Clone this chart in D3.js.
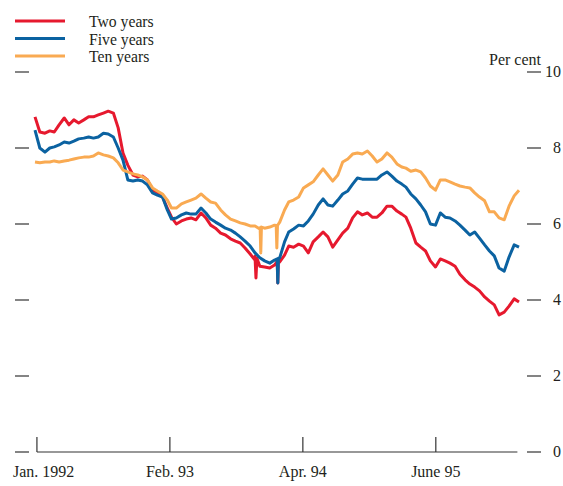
<!DOCTYPE html>
<html><head><meta charset="utf-8">
<script src="https://cdn.jsdelivr.net/npm/d3@7"></script>
<style>body{margin:0;background:#fff}text{font-family:"Liberation Serif","Times New Roman",serif;fill:#231f20}</style>
</head><body><svg id="c" width="563" height="486"></svg>
<script>
// Semi-monthly observations (1st and 16th), Jan. 1992 onward, per cent
const seriesNames = ["Two years", "Five years", "Ten years"];
const seriesColors = ["#e6192e", "#0b62a1", "#f9aa52"];

const twoYears = [8.82,8.42,8.39,8.45,8.42,8.61,8.79,8.61,8.74,8.66,
  8.74,8.82,8.82,8.87,8.92,8.97,8.92,8.53,7.87,7.55,
  7.29,7.24,7.26,7.16,6.89,6.84,6.71,6.42,6.18,6.00,
  6.08,6.13,6.16,6.11,6.29,6.16,5.97,5.89,5.76,5.71,
  5.61,5.55,5.50,5.37,5.21,5.05,4.89,4.87,4.84,4.92,
  5.00,5.18,5.42,5.39,5.47,5.42,5.24,5.53,5.66,5.79,
  5.66,5.39,5.58,5.76,5.89,6.16,6.32,6.24,6.29,6.18,
  6.18,6.29,6.47,6.47,6.34,6.26,6.18,5.89,5.50,5.39,
  5.29,5.03,4.87,5.08,5.03,4.97,4.89,4.68,4.53,4.42,
  4.34,4.24,4.08,3.97,3.87,3.61,3.68,3.84,4.03,3.95];

const fiveYears = [8.47,8.00,7.89,8.00,8.03,8.08,8.16,8.13,8.18,8.24,
  8.26,8.29,8.26,8.29,8.39,8.37,8.29,8.00,7.68,7.16,
  7.13,7.16,7.13,7.03,6.82,6.76,6.71,6.37,6.13,6.16,
  6.24,6.29,6.26,6.26,6.42,6.29,6.13,6.05,5.97,5.89,
  5.84,5.76,5.66,5.55,5.42,5.24,5.11,5.03,4.97,5.05,
  5.11,5.53,5.79,5.87,5.97,5.95,6.08,6.26,6.50,6.66,
  6.50,6.47,6.63,6.79,6.87,7.05,7.21,7.18,7.18,7.18,
  7.18,7.29,7.37,7.26,7.13,7.05,6.97,6.79,6.66,6.50,
  6.32,6.00,5.97,6.29,6.18,6.16,6.08,5.97,5.84,5.71,
  5.79,5.63,5.45,5.29,5.16,4.84,4.76,5.13,5.45,5.39];

const tenYears = [7.63,7.61,7.63,7.63,7.66,7.63,7.66,7.68,7.71,7.74,
  7.76,7.76,7.79,7.87,7.82,7.79,7.74,7.61,7.42,7.37,
  7.32,7.29,7.24,7.16,6.95,6.87,6.79,6.63,6.42,6.42,
  6.53,6.58,6.63,6.68,6.79,6.68,6.58,6.55,6.37,6.24,
  6.13,6.08,6.03,6.00,5.95,5.95,5.87,5.89,5.92,5.97,
  6.05,6.37,6.58,6.63,6.71,6.95,7.03,7.11,7.29,7.45,
  7.29,7.13,7.29,7.63,7.71,7.84,7.87,7.84,7.92,7.79,
  7.63,7.71,7.87,7.76,7.58,7.50,7.47,7.39,7.42,7.37,
  7.21,7.00,6.89,7.16,7.16,7.11,7.05,7.00,6.97,6.95,
  6.82,6.71,6.61,6.32,6.32,6.16,6.11,6.47,6.74,6.89];

// single-day drops, [date, value]
const twoYearSpikes = [["1993-11-16",5.15],["1993-11-19",4.58],["1993-11-22",5.10],
                       ["1994-01-24",5.02],["1994-01-26",4.45],["1994-01-28",5.08]];
const fiveYearSpikes = [["1994-01-24",5.08],["1994-01-26",4.45],["1994-01-28",5.10]];
const tenYearSpikes = [["1993-12-02",5.90],["1993-12-04",5.24],["1993-12-06",5.92],
                       ["1994-01-21",5.96],["1994-01-23",5.37],["1994-01-25",5.96]];

const yTicks = [0, 2, 4, 6, 8, 10];
const xTickDates = ["1992-01-07", "1993-02-24", "1994-04-14", "1995-06-02"];
const xTickLabels = ["Jan. 1992", "Feb. 93", "Apr. 94", "June 95"];
const axisEndDate = "1996-02-11";

const parse = d3.utcParse("%Y-%m-%d");
const dates = d3.range(twoYears.length).map(i => new Date(Date.UTC(1992, Math.floor(i / 2), i % 2 ? 16 : 1)));

const svg = d3.select("#c");
const x = d3.scaleUtc().domain([dates[0], dates[dates.length - 1]]).range([35, 519]);
const y = d3.scaleLinear().domain([0, 10]).range([452, 72]);

function build(vals, spikes) {
  const pts = vals.map((v, i) => ({d: dates[i], v}));
  spikes.forEach(([ds, v]) => pts.push({d: parse(ds), v}));
  pts.sort((a, b) => a.d - b.d);
  return pts;
}
const series = [build(twoYears, twoYearSpikes), build(fiveYears, fiveYearSpikes), build(tenYears, tenYearSpikes)];

const line = d3.line().x(p => x(p.d)).y(p => y(p.v));
const g = svg.append("g");
series.forEach((s, k) => {
  g.append("path").attr("d", line(s)).attr("fill", "none")
    .attr("stroke", seriesColors[k]).attr("stroke-width", 3).attr("stroke-linejoin", "round");
});

// right and left tick marks
const tickColor = "#333";
yTicks.forEach(t => {
  svg.append("line").attr("x1", 527).attr("x2", 541).attr("y1", y(t)).attr("y2", y(t))
    .attr("stroke", tickColor).attr("stroke-width", 1.2);
  svg.append("line").attr("x1", 15).attr("x2", 29).attr("y1", y(t)).attr("y2", y(t))
    .attr("stroke", tickColor).attr("stroke-width", 1.2);
  svg.append("text").attr("x", 561).attr("y", y(t) + 5).attr("text-anchor", "end")
    .attr("font-size", 16).text(t);
});
svg.append("text").attr("x", 541).attr("y", 65).attr("text-anchor", "end")
  .attr("font-size", 16).text("Per cent");

// x axis
const tks = xTickDates.map(parse);
svg.append("line").attr("x1", x(tks[0])).attr("x2", x(parse(axisEndDate)))
  .attr("y1", y(0)).attr("y2", y(0)).attr("stroke", tickColor).attr("stroke-width", 1.2);
tks.forEach((d, i) => {
  svg.append("line").attr("x1", x(d)).attr("x2", x(d)).attr("y1", y(0)).attr("y2", y(0) - 15)
    .attr("stroke", tickColor).attr("stroke-width", 1.2);
  svg.append("text").attr("x", i === 0 ? 13 : x(d)).attr("y", 477)
    .attr("text-anchor", i === 0 ? "start" : "middle").attr("font-size", 16).text(xTickLabels[i]);
});

// legend
seriesNames.forEach((n, k) => {
  const ly = 21 + k * 17.5;
  svg.append("line").attr("x1", 15).attr("x2", 65).attr("y1", ly).attr("y2", ly)
    .attr("stroke", seriesColors[k]).attr("stroke-width", 3);
  svg.append("text").attr("x", 89).attr("y", ly + 6).attr("font-size", 15.7).text(n);
});
</script></body></html>
